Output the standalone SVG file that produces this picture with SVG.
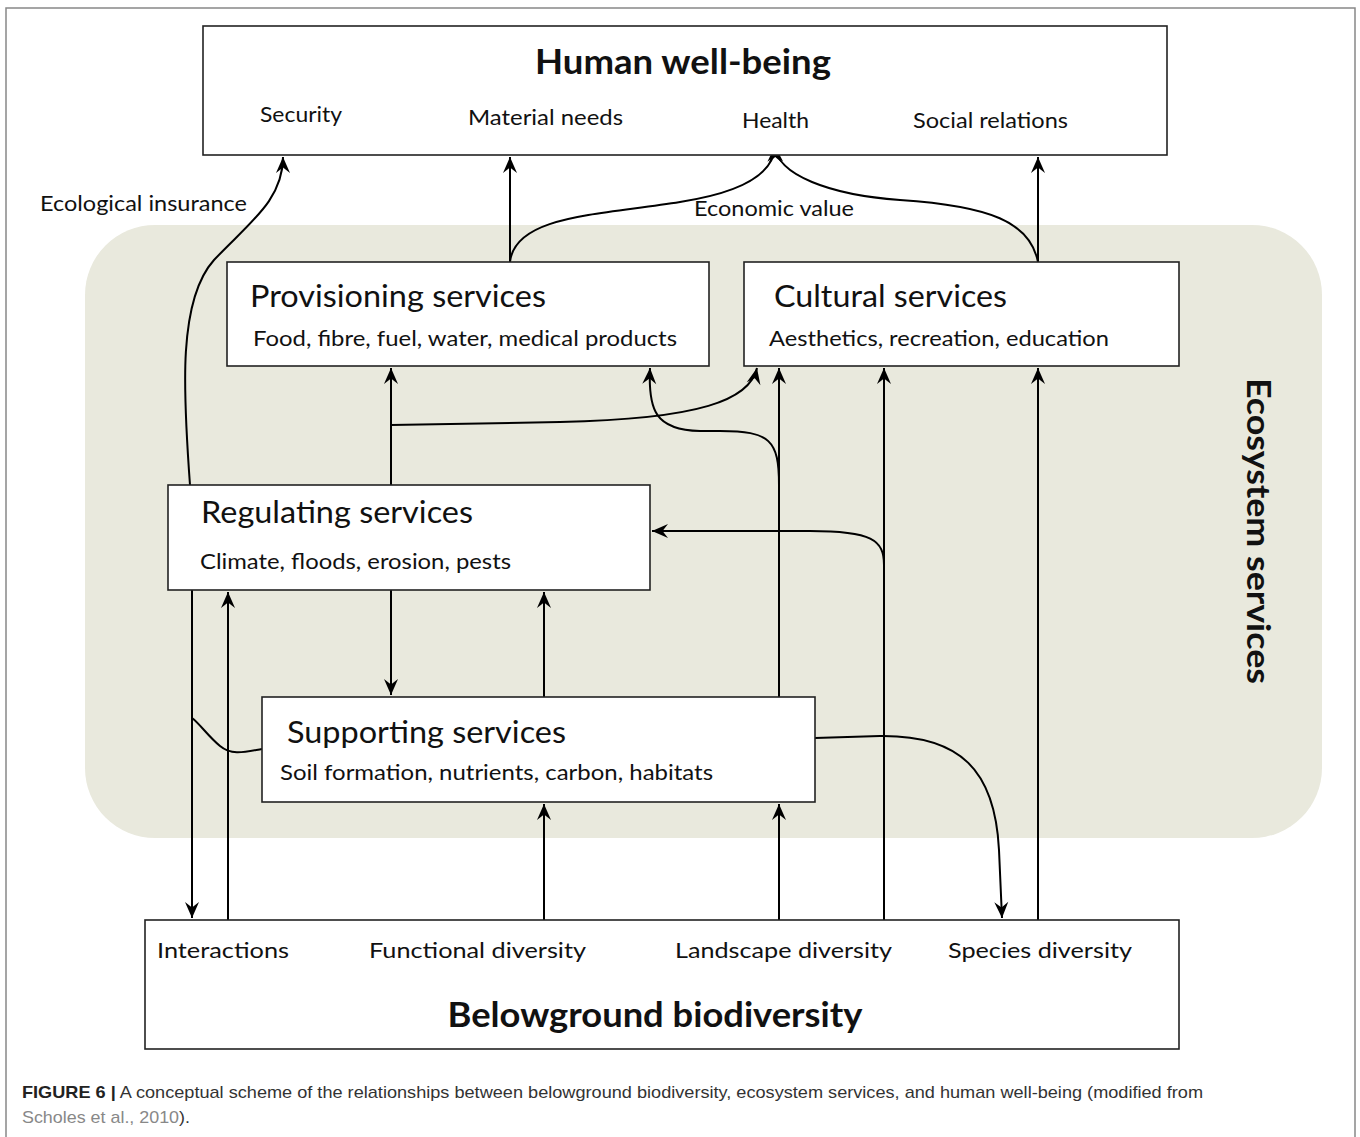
<svg xmlns="http://www.w3.org/2000/svg" width="1360" height="1137" viewBox="0 0 1360 1137">
<style>
.box{fill:#fff;stroke:#222;stroke-width:1.6}
.t{font-family:Lato,"Open Sans","Noto Sans",sans-serif;fill:#111}
.big{font-size:34px;font-weight:bold}
.h{font-size:30px}
.s{font-size:22px}
.c{fill:none;stroke:#000;stroke-width:2}
.a{marker-end:url(#arr)}
.cap{font-family:"Liberation Sans",Arial,sans-serif;font-size:17px;fill:#333}
</style>
<defs>
<marker id="arr" viewBox="-17 -8 19 16" refX="0" refY="0" markerWidth="19" markerHeight="16" markerUnits="userSpaceOnUse" orient="auto">
<path d="M0,0 L-16,-7 L-10.5,0 L-16,7 Z" fill="#000"/>
</marker>
</defs>
<rect x="0" y="0" width="1360" height="1137" fill="#fff"/>
<path d="M6,1137 V8 H1355 V1137" fill="none" stroke="#888" stroke-width="1.5"/>
<rect id="ecosystem-bg" x="85" y="225" width="1237" height="613" rx="70" ry="70" fill="#e9e9dd"/>
<text class="t" font-size="32" font-weight="bold" transform="translate(1247,531) rotate(90)" text-anchor="middle" textLength="306" lengthAdjust="spacingAndGlyphs">Ecosystem services</text>

<g id="connectors">
<path class="c a" d="M190,485 C183,390 178,300 214,260 C250,222 283,200 283,157"/>
<path class="c a" d="M510,262 V157"/>
<path class="c a" d="M510,262 C515,215 600,215 680,202 C745,192 774,172 775,146"/>
<path class="c a" d="M1038,262 C1030,222 990,206 900,200 C830,195 777,175 775,146"/>
<path class="c a" d="M1038,262 V157"/>
<path class="c a" d="M391,485 V368"/>
<path class="c a" d="M391,425 L560,422 C700,419 750,400 757,368"/>
<path class="c a" d="M779,485 C779,440 770,431 720,431 L700,431 C655,430 648,410 650,368"/>
<path class="c a" d="M779,697 V368"/>
<path class="c a" d="M884,920 V368"/>
<path class="c a" d="M884,565 C884,540 872,531 810,531 L652,531"/>
<path class="c a" d="M1038,920 V368"/>
<path class="c a" d="M391,590 V695"/>
<path class="c a" d="M544,697 V592"/>
<path class="c a" d="M544,920 V804"/>
<path class="c a" d="M779,920 V804"/>
<path class="c a" d="M192,590 V918"/>
<path class="c a" d="M228,920 V592"/>
<path class="c" d="M262,749 C245,752 232,756 220,746 C208,736 200,724 192,718"/>
<path class="c a" d="M815,738 L880,736 C960,735 995,770 999,850 L1002,918"/>
</g>

<g id="human-well-being">
<rect class="box" x="203" y="26" width="964" height="129"/>
<text class="t big" x="683" y="74" text-anchor="middle" textLength="296" lengthAdjust="spacingAndGlyphs">Human well-being</text>
<text class="t s" x="260" y="122" textLength="82" lengthAdjust="spacingAndGlyphs">Security</text>
<text class="t s" x="468" y="125" textLength="155" lengthAdjust="spacingAndGlyphs">Material needs</text>
<text class="t s" x="742" y="128" textLength="67" lengthAdjust="spacingAndGlyphs">Health</text>
<text class="t s" x="913" y="128" textLength="155" lengthAdjust="spacingAndGlyphs">Social relations</text>
</g>

<text class="t s" x="40" y="211" textLength="207" lengthAdjust="spacingAndGlyphs">Ecological insurance</text>
<text class="t s" x="694" y="216" textLength="160" lengthAdjust="spacingAndGlyphs">Economic value</text>

<g id="provisioning">
<rect class="box" x="227" y="262" width="482" height="104"/>
<text class="t h" x="250" y="307" textLength="296" lengthAdjust="spacingAndGlyphs">Provisioning services</text>
<text class="t s" x="253" y="346" textLength="424" lengthAdjust="spacingAndGlyphs">Food, fibre, fuel, water, medical products</text>
</g>

<g id="cultural">
<rect class="box" x="744" y="262" width="435" height="104"/>
<text class="t h" x="774" y="307" textLength="233" lengthAdjust="spacingAndGlyphs">Cultural services</text>
<text class="t s" x="769" y="346" textLength="340" lengthAdjust="spacingAndGlyphs">Aesthetics, recreation, education</text>
</g>

<g id="regulating">
<rect class="box" x="168" y="485" width="482" height="105"/>
<text class="t h" x="201" y="523" textLength="272" lengthAdjust="spacingAndGlyphs">Regulating services</text>
<text class="t s" x="200" y="569" textLength="311" lengthAdjust="spacingAndGlyphs">Climate, floods, erosion, pests</text>
</g>

<g id="supporting">
<rect class="box" x="262" y="697" width="553" height="105"/>
<text class="t h" x="287" y="743" textLength="279" lengthAdjust="spacingAndGlyphs">Supporting services</text>
<text class="t s" x="280" y="780" textLength="433" lengthAdjust="spacingAndGlyphs">Soil formation, nutrients, carbon, habitats</text>
</g>

<g id="belowground">
<rect class="box" x="145" y="920" width="1034" height="129"/>
<text class="t s" x="157" y="958" textLength="132" lengthAdjust="spacingAndGlyphs">Interactions</text>
<text class="t s" x="369" y="958" textLength="217" lengthAdjust="spacingAndGlyphs">Functional diversity</text>
<text class="t s" x="675" y="958" textLength="217" lengthAdjust="spacingAndGlyphs">Landscape diversity</text>
<text class="t s" x="948" y="958" textLength="184" lengthAdjust="spacingAndGlyphs">Species diversity</text>
<text class="t big" x="655" y="1027" text-anchor="middle" textLength="415" lengthAdjust="spacingAndGlyphs">Belowground biodiversity</text>
</g>

<text class="cap" x="22" y="1098" textLength="1181" lengthAdjust="spacingAndGlyphs"><tspan font-weight="bold" fill="#222">FIGURE 6 |</tspan> A conceptual scheme of the relationships between belowground biodiversity, ecosystem services, and human well-being (modified from</text>
<text class="cap" x="22" y="1123" textLength="168" lengthAdjust="spacingAndGlyphs"><tspan fill="#888">Scholes et al., 2010</tspan>).</text>
</svg>
